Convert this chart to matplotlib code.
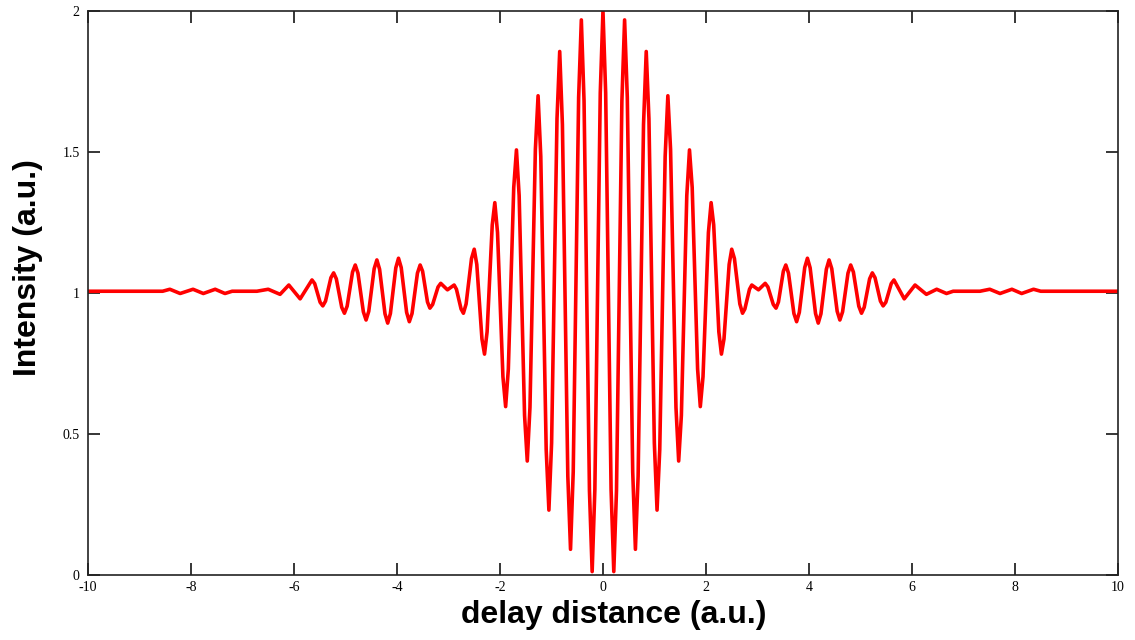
import matplotlib
matplotlib.use("Agg")
import matplotlib.pyplot as plt

# curve (fringe extrema plus shoulder points), left to right
delay = [
    -10.0, -8.55, -8.41, -8.21, -7.96, -7.76, -7.53, -7.34, -7.20, -6.72,
    -6.50, -6.27, -6.10, -5.88,
    -5.65, -5.5975, -5.4925, -5.44, -5.3875, -5.2825, -5.23, -5.1775, -5.0725,
    -5.02, -4.9675, -4.8625, -4.81, -4.7575, -4.6525, -4.60, -4.5475, -4.4425,
    -4.39, -4.3375, -4.2325, -4.18, -4.1275, -4.0225, -3.97, -3.9175, -3.8125,
    -3.76, -3.7075, -3.6025, -3.55, -3.5025, -3.4075, -3.36, -3.3075, -3.2025,
    -3.15, -3.02, -2.89, -2.845, -2.755,
    -2.71, -2.6575, -2.5525, -2.50, -2.45, -2.35, -2.30, -2.25, -2.15,
    -2.10, -2.0475, -1.9425, -1.89, -1.8375, -1.7325, -1.68, -1.6275, -1.5225,
    -1.47, -1.4175, -1.3125, -1.26, -1.2075, -1.1025, -1.05, -0.9975, -0.8925,
    -0.84, -0.7875, -0.6825, -0.63, -0.5775, -0.4725, -0.42, -0.3675, -0.2625,
    -0.21, -0.1575, -0.0525,
    0.0,
    0.0525, 0.1575, 0.21, 0.2625, 0.3675, 0.42, 0.4725, 0.5775, 0.63,
    0.6825, 0.7875, 0.84, 0.8925, 0.9975, 1.05, 1.1025, 1.2075, 1.26,
    1.3125, 1.4175, 1.47, 1.5225, 1.6275, 1.68, 1.7325, 1.8375, 1.89,
    1.9425, 2.0475, 2.10, 2.15, 2.25, 2.30, 2.35, 2.45, 2.50,
    2.5525, 2.6575, 2.71, 2.755, 2.845, 2.89, 3.02, 3.15,
    3.2025, 3.3075, 3.36, 3.4075, 3.5025, 3.55, 3.6025, 3.7075, 3.76,
    3.8125, 3.9175, 3.97, 4.0225, 4.1275, 4.18, 4.2325, 4.3375, 4.39,
    4.4425, 4.5475, 4.60, 4.6525, 4.7575, 4.81, 4.8625, 4.9675, 5.02,
    5.0725, 5.1775, 5.23, 5.2825, 5.3875, 5.44, 5.4925, 5.5975, 5.65,
    5.85, 6.06, 6.28, 6.48, 6.67, 6.80, 7.32, 7.51, 7.71, 7.94, 8.13, 8.36,
    8.50, 10.0,
]
intensity = [
    1.006, 1.006, 1.013, 0.998, 1.013, 0.998, 1.013, 0.998, 1.006, 1.006,
    1.013, 0.995, 1.028, 0.979,
    1.046, 1.033, 0.967, 0.954, 0.971, 1.054, 1.071, 1.050, 0.949,
    0.928, 0.953, 1.074, 1.099, 1.070, 0.933, 0.904, 0.935, 1.086,
    1.117, 1.084, 0.926, 0.893, 0.927, 1.089, 1.123, 1.090, 0.931,
    0.898, 0.927, 1.070, 1.099, 1.077, 0.968, 0.946, 0.959, 1.021,
    1.034, 1.011, 1.028, 1.013, 0.943,
    0.928, 0.961, 1.122, 1.155, 1.101, 0.837, 0.783, 0.862, 1.241,
    1.320, 1.214, 0.703, 0.597, 0.730, 1.374, 1.507, 1.345, 0.566,
    0.404, 0.594, 1.509, 1.699, 1.484, 0.445, 0.230, 0.468, 1.618,
    1.856, 1.597, 0.350, 0.091, 0.366, 1.693, 1.968, 1.681, 0.299,
    0.012, 0.303, 1.709,
    2.000,
    1.709, 0.303, 0.012, 0.299, 1.681, 1.968, 1.693, 0.366, 0.091,
    0.350, 1.597, 1.856, 1.618, 0.468, 0.230, 0.445, 1.484, 1.699,
    1.509, 0.594, 0.404, 0.566, 1.345, 1.507, 1.374, 0.730, 0.597,
    0.703, 1.214, 1.320, 1.241, 0.862, 0.783, 0.837, 1.101, 1.155,
    1.122, 0.961, 0.928, 0.943, 1.013, 1.028, 1.011, 1.034,
    1.021, 0.959, 0.946, 0.968, 1.077, 1.099, 1.070, 0.927, 0.898,
    0.931, 1.090, 1.123, 1.089, 0.927, 0.893, 0.926, 1.084, 1.117,
    1.086, 0.935, 0.904, 0.933, 1.070, 1.099, 1.074, 0.953, 0.928,
    0.949, 1.050, 1.071, 1.054, 0.971, 0.954, 0.967, 1.033, 1.046,
    0.979, 1.028, 0.995, 1.013, 0.998, 1.006, 1.006, 1.013, 0.998, 1.013, 0.998, 1.013,
    1.006, 1.006,
]

x_ticks = [-10, -8, -6, -4, -2, 0, 2, 4, 6, 8, 10]
x_labels = ["-10", "-8", "-6", "-4", "-2", "0", "2", "4", "6", "8", "10"]
y_ticks = [0, 0.5, 1, 1.5, 2]
y_labels = ["0", "0.5", "1", "1.5", "2"]


def main():
    assert len(delay) == len(intensity)
    fig = plt.figure(figsize=(11.35, 6.4), dpi=100)
    ax = fig.add_axes([0.0775, 0.1016, 0.9075, 0.8814])
    ax.plot(delay, intensity, color="#ff0000", linewidth=2.6)

    ax.set_xlim(-10, 10)
    ax.set_ylim(0, 2)
    ax.set_xticks(x_ticks)
    ax.set_xticklabels(x_labels, family="Liberation Serif", fontsize=10)
    ax.set_yticks(y_ticks)
    ax.set_yticklabels(y_labels, family="Liberation Serif", fontsize=10)
    ax.tick_params(axis="both", direction="in", length=8.5, width=1.1,
                   top=True, right=True)
    ax.tick_params(axis="y", pad=6)
    ax.tick_params(axis="x", pad=4)

    for s in ax.spines.values():
        s.set_linewidth(1.2)
        s.set_color("#222222")

    ax.set_xlabel("delay distance (a.u.)", family="Liberation Sans", fontweight="bold",
                  fontsize=23)
    ax.set_ylabel("Intensity (a.u.)", family="Liberation Sans", fontweight="bold",
                  fontsize=23)
    # label anchors (top of x label, right edge of y label) as in the reference
    ax.xaxis.set_label_coords(0.51, -0.045)
    ax.yaxis.set_label_coords(-0.044, 0.545)

    fig.savefig("out.png", dpi=100)


if __name__ == "__main__":
    main()
